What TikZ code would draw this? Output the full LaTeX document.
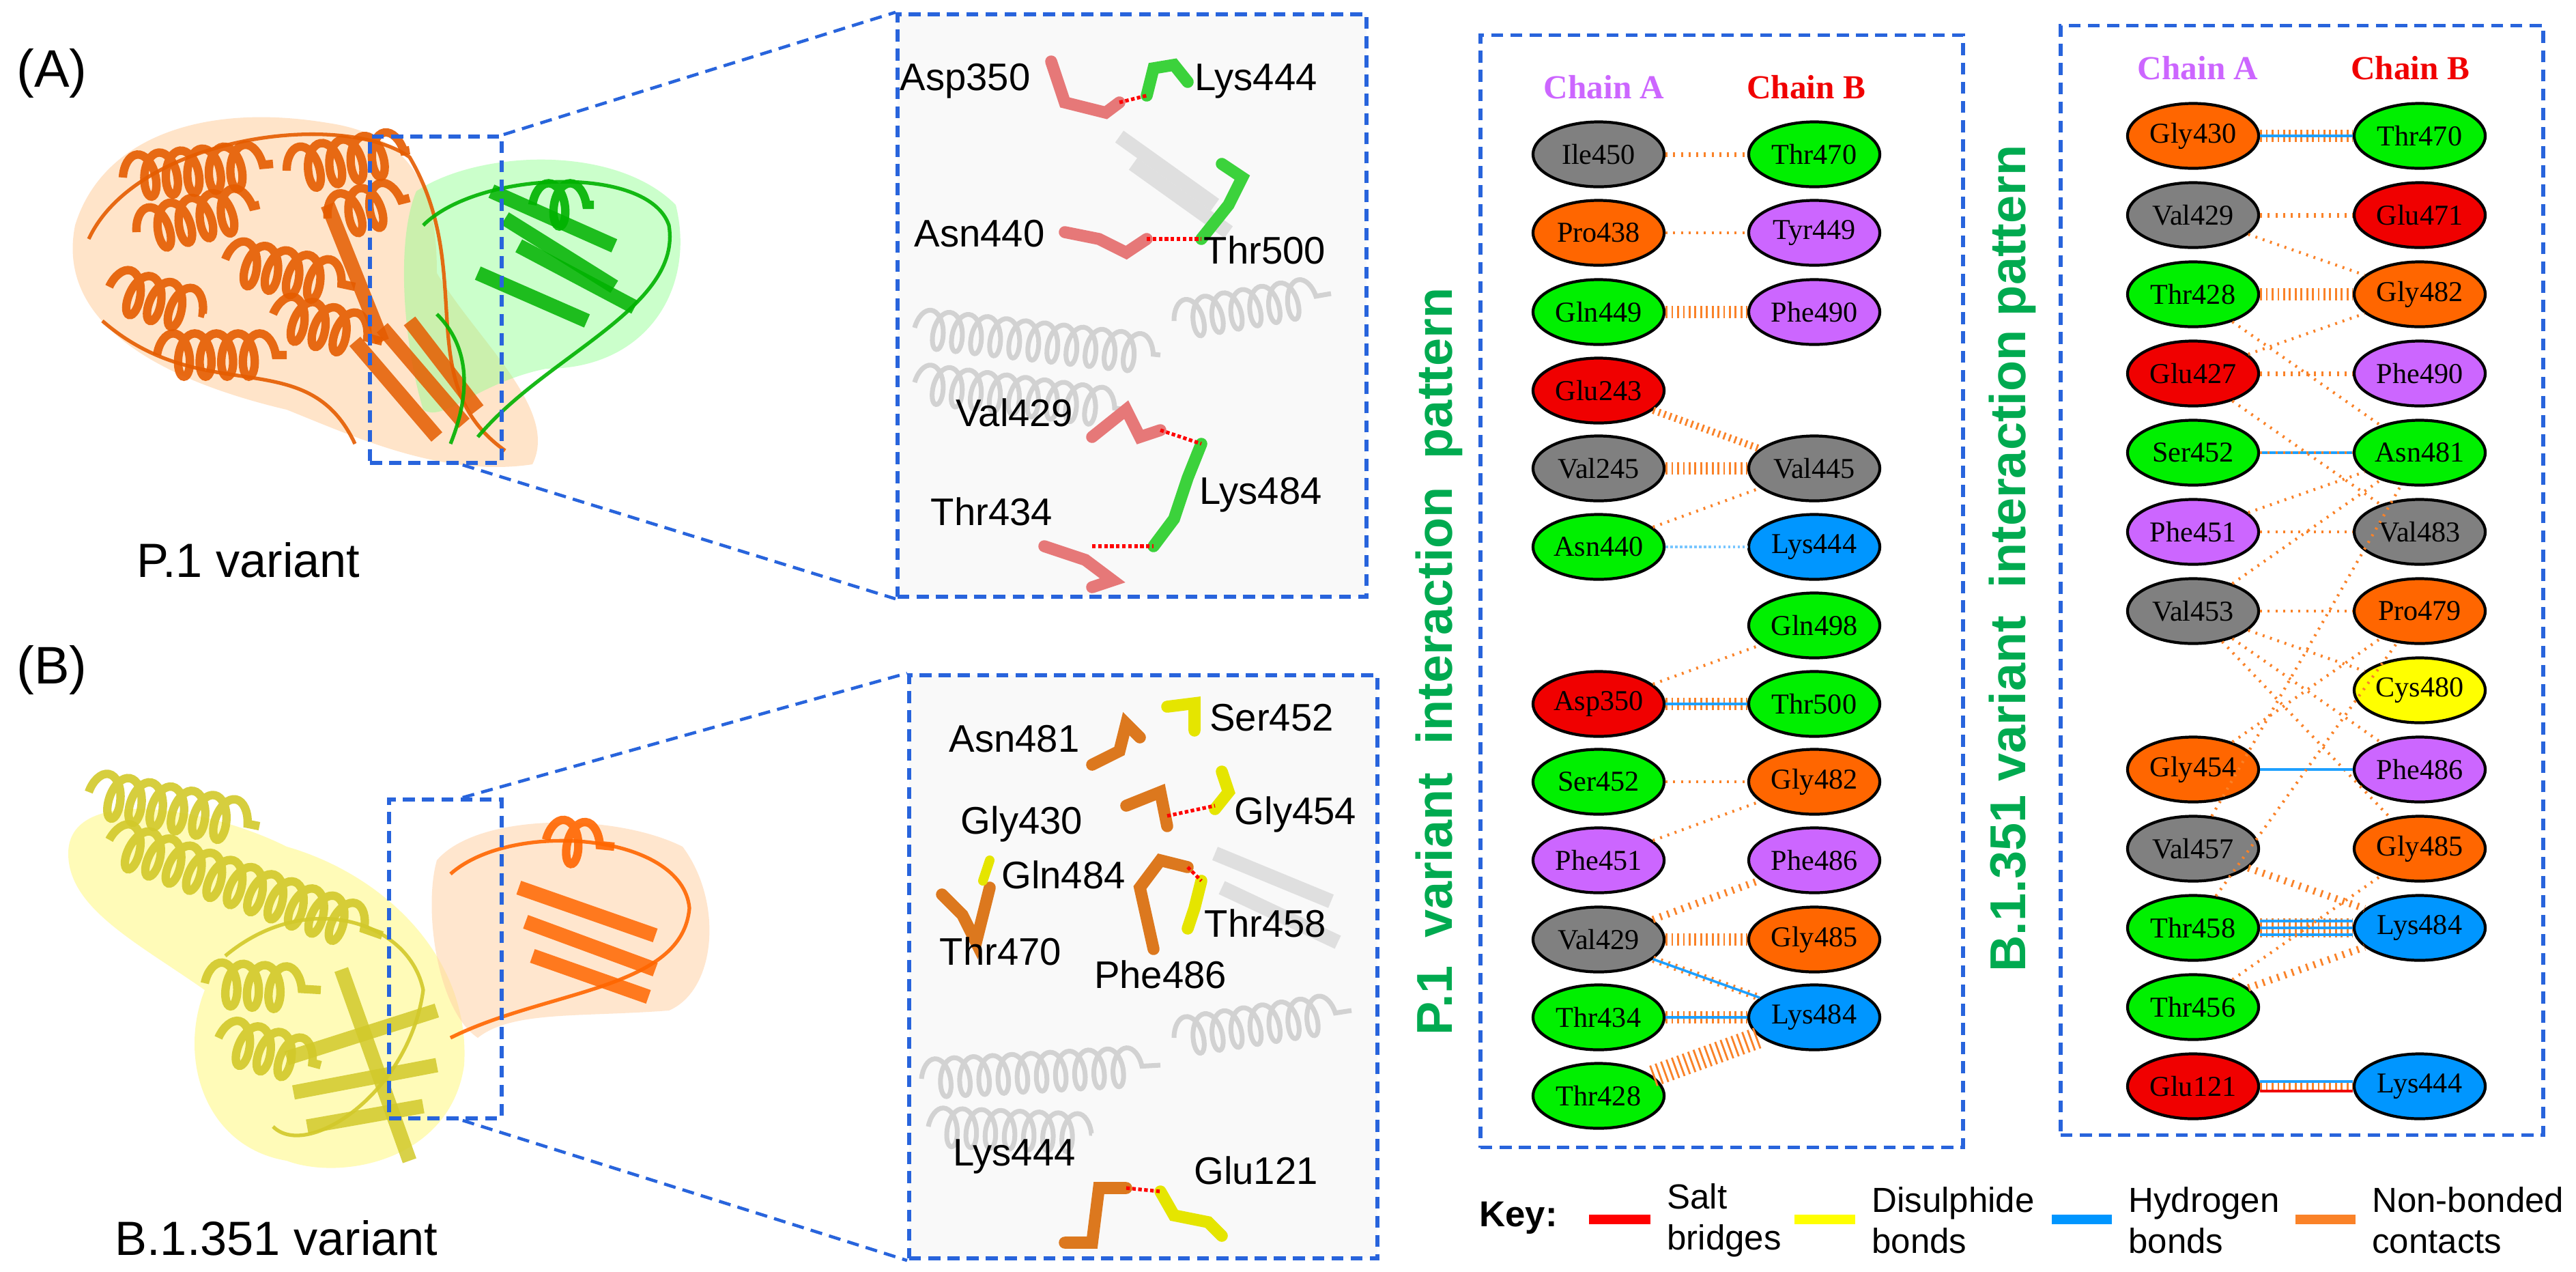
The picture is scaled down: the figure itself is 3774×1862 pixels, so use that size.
\documentclass[tikz,border=0pt]{standalone}
\usepackage{fontspec}
\setmainfont{Liberation Serif}
\newfontfamily\sans{Liberation Sans}
\usetikzlibrary{shapes.geometric,decorations.pathmorphing}
\definecolor{bxblue}{RGB}{40,100,220}
\definecolor{cgray}{RGB}{128,128,128}
\definecolor{corange}{RGB}{255,102,0}
\definecolor{cgreen}{RGB}{0,240,0}
\definecolor{cred}{RGB}{240,0,0}
\definecolor{cviolet}{RGB}{204,102,255}
\definecolor{cblue}{RGB}{0,150,255}
\definecolor{cyellow}{RGB}{255,255,0}
\definecolor{orng}{RGB}{250,130,40}
\definecolor{hblue}{RGB}{30,160,255}
\definecolor{ttlgreen}{RGB}{0,170,80}
\definecolor{salmon}{RGB}{230,120,120}
\definecolor{stickgreen}{RGB}{60,210,60}
\definecolor{stickor}{RGB}{220,120,30}
\begin{document}
\begin{tikzpicture}[x=0.01cm,y=-0.01cm,
  res/.style={ellipse,draw=black,line width=1.2pt,minimum width=1.92cm,minimum height=0.95cm,inner sep=0pt,font=\fontsize{12}{12}\selectfont},
  rg/.style={res,fill=cgray}, ro/.style={res,fill=corange}, rn/.style={res,fill=cgreen},
  rr/.style={res,fill=cred}, rv/.style={res,fill=cviolet}, rb/.style={res,fill=cblue}, ry/.style={res,fill=cyellow},
  nb/.style={draw=orng,line width=2pt,dash pattern=on 0.8pt off 2.4pt},
  nbd/.style={draw=orng,line width=5pt,dash pattern=on 0.8pt off 1.6pt},
  hb/.style={draw=hblue,line width=1pt},
  sbr/.style={draw=cred,line width=1pt},
  bx/.style={draw=bxblue,line width=1.6pt,dash pattern=on 5pt off 3pt},
  lead/.style={draw=bxblue,line width=1.3pt,dash pattern=on 5pt off 3pt},
  lbl/.style={font=\sans\fontsize{16}{16}\selectfont},
  chA/.style={font=\bfseries\fontsize{14}{14}\selectfont,text=cviolet},
  chB/.style={font=\bfseries\fontsize{14}{14}\selectfont,text=cred},
  ttl/.style={font=\sans\bfseries\fontsize{21}{21}\selectfont,text=ttlgreen,rotate=90},
  key/.style={font=\sans\fontsize{14.5}{17}\selectfont,align=left,anchor=west},
  helix/.style={line width=3.5pt,decorate,decoration={coil,aspect=0.5,amplitude=9pt,segment length=9pt},opacity=0.9},
  strand/.style={line width=6pt,opacity=0.85},
  loop/.style={line width=1.5pt,opacity=0.9},
  bg/.style={gray!35,line width=2pt,decorate,decoration={coil,aspect=0.5,amplitude=8pt,segment length=8pt}}]
\useasboundingbox (0,0) rectangle (3774,1862);
\fill[white] (0,0) rectangle (3774,1862);

% ---------- left panels ----------
\node[font=\sans\fontsize{22}{22}\selectfont] (labA) at (76,107) {(A)};
\node[font=\sans\fontsize{22}{22}\selectfont] (labB) at (76,981) {(B)};
\node[font=\sans\fontsize{20}{20}\selectfont] (varA) at (364,820) {P.1 variant};
\node[font=\sans\fontsize{20}{20}\selectfont] (varB) at (405,1813) {B.1.351 variant};

% protein A
\fill[orange!35,opacity=0.6] (110,330) .. controls (150,200) and (300,150) .. (480,180) .. controls (620,200) and (640,300) .. (640,400) .. controls (700,500) and (820,600) .. (780,680) .. controls (650,700) and (520,640) .. (420,600) .. controls (250,560) and (80,480) .. (110,330);
\fill[green!45,opacity=0.45] (610,280) .. controls (700,220) and (900,210) .. (990,300) .. controls (1020,420) and (950,540) .. (800,540) .. controls (700,560) and (650,620) .. (620,600) .. controls (590,500) and (580,350) .. (610,280);
\foreach \a/\b/\c/\d in {180/260/400/240,200/340/380/300,420/250/600/220,160/420/300/460,330/380/520/420,230/520/420/520,480/320/600/290,400/460/560/500}
  \draw[helix,corange!90!black] (\a,\b) -- (\c,\d);
\foreach \a/\b/\c/\d in {520/500/640/640,560/480/680/620,600/470/700/600,480/300/560/500}
  \draw[strand,corange!90!black] (\a,\b) -- (\c,\d);
\draw[loop,corange!90!black] (130,350) .. controls (200,200) and (500,160) .. (600,230) .. controls (700,400) and (600,560) .. (740,660);
\draw[loop,corange!90!black] (150,470) .. controls (300,600) and (450,500) .. (520,650);
\foreach \a/\b/\c/\d in {720/280/900/360,740/320/900/420,760/360/930/450,700/400/860/470}
  \draw[strand,green!70!black] (\a,\b) -- (\c,\d);
\draw[helix,green!70!black] (780,300) -- (870,300);
\draw[loop,green!70!black] (620,330) .. controls (700,250) and (950,240) .. (980,330) .. controls (1000,450) and (800,520) .. (700,640);
\draw[loop,green!70!black] (640,460) .. controls (700,520) and (680,600) .. (660,650);
% protein B
\fill[yellow!55,opacity=0.5] (100,1250) .. controls (100,1150) and (300,1180) .. (420,1240) .. controls (560,1280) and (690,1400) .. (680,1560) .. controls (660,1700) and (500,1730) .. (420,1700) .. controls (300,1680) and (260,1550) .. (300,1450) .. controls (200,1380) and (100,1330) .. (100,1250);
\fill[orange!35,opacity=0.55] (640,1260) .. controls (700,1190) and (900,1190) .. (1000,1240) .. controls (1060,1320) and (1050,1450) .. (980,1480) .. controls (850,1490) and (750,1480) .. (700,1520) .. controls (640,1480) and (620,1330) .. (640,1260);
\foreach \a/\b/\c/\d in {130/1160/380/1210,160/1230/560/1370,300/1440/470/1450,320/1520/470/1560}
  \draw[helix,yellow!80!black] (\a,\b) -- (\c,\d);
\foreach \a/\b/\c/\d in {420/1550/640/1480,430/1600/640/1560,450/1650/620/1620,500/1420/600/1700}
  \draw[strand,yellow!80!black] (\a,\b) -- (\c,\d);
\draw[loop,yellow!80!black] (330,1400) .. controls (450,1300) and (600,1350) .. (620,1450) .. controls (600,1600) and (450,1700) .. (400,1650);
\foreach \a/\b/\c/\d in {760/1300/960/1370,770/1350/960/1420,780/1400/950/1460}
  \draw[strand,corange] (\a,\b) -- (\c,\d);
\draw[helix,corange] (800,1230) -- (900,1240);
\draw[loop,corange] (660,1280) .. controls (750,1200) and (1000,1220) .. (1010,1330) .. controls (1000,1450) and (800,1450) .. (660,1520);

% small boxes and zoom boxes
\node[bx,minimum width=1.93cm,minimum height=4.78cm,inner sep=0pt] (sA) at (638.5,439) {};
\node[bx,minimum width=1.65cm,minimum height=4.67cm,inner sep=0pt] (sB) at (652.5,1404.5) {};
\node[bx,fill=gray!5,minimum width=6.87cm,minimum height=8.53cm,inner sep=0pt] (zA) at (1658.5,447.5) {};
\node[bx,fill=gray!5,minimum width=6.86cm,minimum height=8.54cm,inner sep=0pt] (zB) at (1675,1416) {};
\draw[lead] (sA.north east) -- (zA.north west);
\draw[lead] ([xshift=-0.6cm]sA.south east) -- (zA.south west);
\draw[lead] ([xshift=-0.6cm]sB.north east) -- (zB.north west);
\draw[lead] ([xshift=-0.6cm]sB.south east) -- (zB.south west);
% faint background cartoon
\foreach \a/\b/\c/\d in {1340/480/1700/520,1340/560/1650/600,1720/470/1950/430,1350/1580/1700/1560,1720/1520/1980/1480,1360/1650/1600/1660}
  \draw[bg] (\a,\b) -- (\c,\d);
\foreach \a/\b/\c/\d in {1640/200/1780/300,1660/240/1800/340,1780/1250/1950/1320,1790/1300/1960/1380}
  \draw[gray!25,line width=6pt] (\a,\b) -- (\c,\d);

% sticks A
\draw[salmon,line width=5pt,line cap=round] (1540,90) -- (1560,150) -- (1620,165) -- (1640,150);
\draw[stickgreen,line width=5pt,line cap=round] (1680,140) -- (1690,100) -- (1720,95) -- (1740,120);
\draw[red,line width=1.5pt,densely dotted] (1640,150) -- (1680,140);
\draw[salmon,line width=5pt,line cap=round] (1560,340) -- (1610,350) -- (1650,370) -- (1680,350);
\draw[stickgreen,line width=5pt,line cap=round] (1760,350) -- (1800,300) -- (1820,260) -- (1790,240);
\draw[red,line width=1.5pt,densely dotted] (1680,350) -- (1760,350);
\draw[salmon,line width=5pt,line cap=round] (1600,640) -- (1650,600) -- (1670,640) -- (1700,630);
\draw[stickgreen,line width=5pt,line cap=round] (1760,650) -- (1740,700) -- (1720,760) -- (1690,800);
\draw[red,line width=1.5pt,densely dotted] (1700,630) -- (1760,650);
\draw[salmon,line width=5pt,line cap=round] (1530,800) -- (1590,820) -- (1630,850) -- (1600,860);
\draw[red,line width=1.5pt,densely dotted] (1600,800) -- (1690,800);
% sticks B
\draw[stickor,line width=5pt,line cap=round] (1600,1120) -- (1640,1100) -- (1650,1060) -- (1670,1080);
\draw[cyellow!90!black,line width=5pt,line cap=round] (1710,1035) -- (1750,1030) -- (1750,1070);
\draw[stickor,line width=5pt,line cap=round] (1650,1180) -- (1700,1160) -- (1710,1210);
\draw[cyellow!90!black,line width=5pt,line cap=round] (1790,1130) -- (1800,1160) -- (1780,1185);
\draw[red,line width=1.5pt,densely dotted] (1710,1195) -- (1780,1180);
\draw[stickor,line width=5pt,line cap=round] (1690,1390) -- (1670,1300) -- (1700,1260) -- (1740,1270);
\draw[cyellow!90!black,line width=5pt,line cap=round] (1760,1290) -- (1750,1330) -- (1740,1360);
\draw[red,line width=1.5pt,densely dotted] (1740,1270) -- (1760,1290);
\draw[stickor,line width=5pt,line cap=round] (1380,1310) -- (1410,1340) -- (1430,1380) -- (1450,1300);
\draw[cyellow!90!black,line width=4pt,line cap=round] (1440,1290) -- (1450,1260);
\draw[stickor,line width=5pt,line cap=round] (1560,1820) -- (1600,1820) -- (1610,1740) -- (1650,1740);
\draw[cyellow!90!black,line width=5pt,line cap=round] (1700,1745) -- (1720,1780) -- (1770,1790) -- (1790,1810);
\draw[red,line width=1.5pt,densely dotted] (1650,1740) -- (1700,1745);

% residue labels
\node[lbl] (l1) at (1414,119) {Asp350};
\node[lbl] (l2) at (1840,119) {Lys444};
\node[lbl] (l3) at (1435,342) {Asn440};
\node[lbl] (l4) at (1853,366) {Thr500};
\node[lbl] (l5) at (1486,604) {Val429};
\node[lbl] (l6) at (1847,725) {Lys484};
\node[lbl] (l7) at (1453,749) {Thr434};
\node[lbl] (m1) at (1863,1051) {Ser452};
\node[lbl] (m2) at (1486,1082) {Asn481};
\node[lbl] (m3) at (1497,1207) {Gly430};
\node[lbl] (m4) at (1898,1193) {Gly454};
\node[lbl] (m5) at (1558,1281) {Gln484};
\node[lbl] (m6) at (1854,1352) {Thr458};
\node[lbl] (m7) at (1466,1393) {Thr470};
\node[lbl] (m8) at (1700,1427) {Phe486};
\node[lbl] (m9) at (1486,1694) {Lys444};
\node[lbl] (m10) at (1840,1714) {Glu121};

% ---------- titles ----------
\node[ttl] (tP) at (2108,969) {P.1\ \ variant\ \ interaction\ \ pattern};
\node[ttl] (tB) at (2948,818) {B.1.351 variant\ \ interaction pattern};

% ---------- P.1 panel ----------
\node[bx,minimum width=7.07cm,minimum height=16.28cm,inner sep=0pt] (boxP) at (2522.5,866) {};
\node[chA] (pcA) at (2350,128) {Chain A};
\node[chB] (pcB) at (2646,128) {Chain B};
\def\xa{2342}\def\xb{2658}
\node[rg] (pA0) at (\xa,226) {Ile450};
\node[ro] (pA1) at (\xa,341) {Pro438};
\node[rn] (pA2) at (\xa,457) {Gln449};
\node[rr] (pA3) at (\xa,572) {Glu243};
\node[rg] (pA4) at (\xa,686) {Val245};
\node[rn] (pA5) at (\xa,801) {Asn440};
\node[rr] (pA7) at (\xa,1031) {Asp350};
\node[rn] (pA8) at (\xa,1145) {Ser452};
\node[rv] (pA9) at (\xa,1260) {Phe451};
\node[rg] (pA10) at (\xa,1376) {Val429};
\node[rn] (pA11) at (\xa,1490) {Thr434};
\node[rn] (pA12) at (\xa,1605) {Thr428};
\node[rn] (pB0) at (\xb,226) {Thr470};
\node[rv] (pB1) at (\xb,341) {Tyr449};
\node[rv] (pB2) at (\xb,457) {Phe490};
\node[rg] (pB4) at (\xb,686) {Val445};
\node[rb] (pB5) at (\xb,801) {Lys444};
\node[rn] (pB6) at (\xb,916) {Gln498};
\node[rn] (pB7) at (\xb,1031) {Thr500};
\node[ro] (pB8) at (\xb,1145) {Gly482};
\node[rv] (pB9) at (\xb,1260) {Phe486};
\node[ro] (pB10) at (\xb,1376) {Gly485};
\node[rb] (pB11) at (\xb,1490) {Lys484};
\draw[nb] (pA0) -- (pB0);
\draw[nb,line width=1.2pt] (pA1) -- (pB1);
\draw[nbd] (pA2) -- (pB2);
\draw[nbd,line width=3pt] (pA3) -- (pB4);
\draw[nbd] (pA4) -- (pB4);
\draw[nb,line width=1.2pt] (pA5) -- (pB4);
\draw[draw=hblue!60,line width=1pt,densely dotted] (pA5) -- (pB5);
\draw[nb,line width=1.2pt] (pA7) -- (pB6);
\draw[nbd] (pA7) -- (pB7); \draw[hb] (pA7) -- (pB7);
\draw[nb,line width=1.2pt] (pA8) -- (pB8);
\draw[nb,line width=1.2pt] (pA9) -- (pB8);
\draw[nb,line width=3pt] (pA10) -- (pB9);
\draw[nbd] (pA10) -- (pB10);
\draw[nb,line width=3pt] (pA10) -- (pB11); \draw[hb] (pA10) -- (pB11);
\draw[nbd] (pA11) -- (pB11); \draw[hb] (pA11) -- (pB11);
\draw[nbd,line width=9pt] (pA12) -- (pB11);

% ---------- B.1.351 panel ----------
\node[bx,minimum width=7.07cm,minimum height=16.24cm,inner sep=0pt] (boxB) at (3372.5,850) {};
\node[chA] (bcA) at (3220,100) {Chain A};
\node[chB] (bcB) at (3531,100) {Chain B};
\def\xc{3213}\def\xd{3545}
\node[ro] (bA0) at (\xc,199) {Gly430};
\node[rg] (bA1) at (\xc,315) {Val429};
\node[rn] (bA2) at (\xc,431) {Thr428};
\node[rr] (bA3) at (\xc,547) {Glu427};
\node[rn] (bA4) at (\xc,663) {Ser452};
\node[rv] (bA5) at (\xc,779) {Phe451};
\node[rg] (bA6) at (\xc,895) {Val453};
\node[ro] (bA8) at (\xc,1127) {Gly454};
\node[rg] (bA9) at (\xc,1243) {Val457};
\node[rn] (bA10) at (\xc,1359) {Thr458};
\node[rn] (bA11) at (\xc,1475) {Thr456};
\node[rr] (bA12) at (\xc,1591) {Glu121};
\node[rn] (bB0) at (\xd,199) {Thr470};
\node[rr] (bB1) at (\xd,315) {Glu471};
\node[ro] (bB2) at (\xd,431) {Gly482};
\node[rv] (bB3) at (\xd,547) {Phe490};
\node[rn] (bB4) at (\xd,663) {Asn481};
\node[rg] (bB5) at (\xd,779) {Val483};
\node[ro] (bB6) at (\xd,895) {Pro479};
\node[ry] (bB7) at (\xd,1011) {Cys480};
\node[rv] (bB8) at (\xd,1127) {Phe486};
\node[ro] (bB9) at (\xd,1243) {Gly485};
\node[rb] (bB10) at (\xd,1359) {Lys484};
\node[rb] (bB12) at (\xd,1591) {Lys444};
\draw[nbd] (bA0) -- (bB0); \draw[hb] (bA0) -- (bB0);
\draw[nb] (bA1) -- (bB1);
\draw[nb,line width=1.2pt] (bA1) -- (bB2);
\draw[nbd] (bA2) -- (bB2);
\draw[nb,line width=1.2pt] (bA2) -- (bB4);
\draw[nb,line width=1.2pt] (bA3) -- (bB2);
\draw[nb] (bA3) -- (bB3);
\draw[nb,line width=1.2pt] (bA3) -- (bB5);
\draw[hb] (bA4) -- (bB4); \draw[nb,line width=1.2pt] (bA4) -- (bB4);
\draw[nb,line width=1.2pt] (bA5) -- (bB4);
\draw[nb,line width=1.2pt] (bA5) -- (bB5);
\draw[nb,line width=1.2pt] (bA6) -- (bB4);
\draw[nb,line width=1.2pt] (bA6) -- (bB6);
\draw[nb,line width=1.2pt] (bA6) -- (bB8);
\draw[nb,line width=1.2pt] (bA6) -- (bB9);
\draw[nb,line width=1.2pt] (bA6) -- (bB7);
\draw[nb,line width=1.2pt] (bA8) -- (bB6);
\draw[nb,line width=1.2pt] (bA8) -- (bB8); \draw[hb] (bA8) -- (bB8);
\draw[nb,line width=1.2pt] (bA9) -- (bB4);
\draw[nb,line width=3pt] (bA9) -- (bB10);
\draw[nb,line width=1.2pt] (bA10) -- (bB6);
\draw[nbd,line width=8pt] (bA10) -- (bB10); \draw[hb] ([yshift=-0.1cm]bA10.east) -- ([yshift=-0.1cm]bB10.west); \draw[hb] ([yshift=0.1cm]bA10.east) -- ([yshift=0.1cm]bB10.west); \draw[hb] (bA10) -- (bB10);
\draw[nb,line width=3pt] (bA11) -- (bB10);
\draw[nb,line width=1.2pt] (bA11) -- (bB9);
\draw[nbd] (bA12) -- (bB12);
\draw[sbr] ([yshift=-0.07cm]bA12.east) -- ([yshift=-0.07cm]bB12.west);
\draw[hb] ([yshift=0.07cm]bA12.east) -- ([yshift=0.07cm]bB12.west);

% ---------- key ----------
\node[font=\sans\bfseries\fontsize{15}{15}\selectfont,anchor=west] (kk) at (2155,1784) {Key:};
\coordinate (k1a) at (2328,1786); \coordinate (k1b) at (2418,1786);
\coordinate (k2a) at (2629,1786); \coordinate (k2b) at (2718,1786);
\coordinate (k3a) at (3006,1786); \coordinate (k3b) at (3094,1786);
\coordinate (k4a) at (3363,1786); \coordinate (k4b) at (3451,1786);
\draw[red,line width=4pt] (k1a) -- (k1b);
\draw[cyellow,line width=4pt] (k2a) -- (k2b);
\draw[cblue,line width=4pt] (k3a) -- (k3b);
\draw[orng,line width=4pt] (k4a) -- (k4b);
\node[key] (kt1) at (2430,1787) {Salt\\bridges};
\node[key] (kt2) at (2730,1787) {Disulphide\\bonds};
\node[key] (kt3) at (3106,1787) {Hydrogen\\bonds};
\node[key] (kt4) at (3463,1787) {Non-bonded\\contacts};
\end{tikzpicture}
\end{document}
